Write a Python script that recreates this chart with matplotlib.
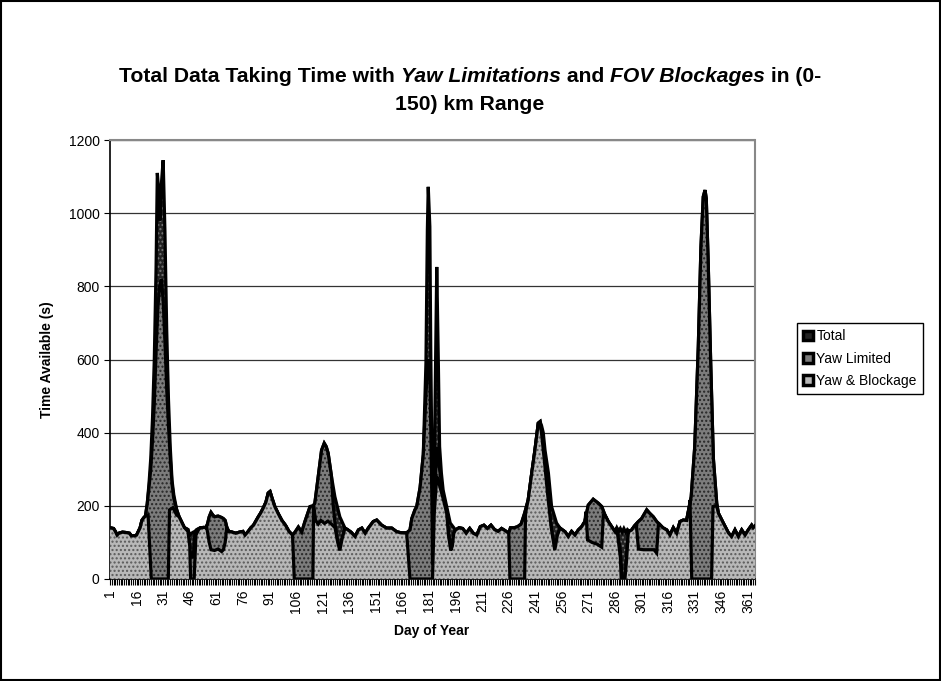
import numpy as np
import matplotlib
matplotlib.use("Agg")
import matplotlib.pyplot as plt
from matplotlib.patches import Patch, Rectangle

plt.rcParams['font.family'] = ['Liberation Sans', 'DejaVu Sans']

# (day, seconds) -- Total is the outer envelope
total = [(1, 140), (3, 138), (4, 130), (5, 120), (6, 125), (8, 128), (10, 127), (12, 125), (13, 118), (15, 118),
         (16, 120), (18, 140), (19, 160), (20, 167), (21, 172), (22, 205), (23, 260), (24, 330), (25, 440),
         (26, 600), (27, 850), (27.7, 1110), (28.5, 1060), (29.2, 980), (30, 1080), (31, 1145), (32, 950),
         (33, 680), (34, 490), (35, 360), (36, 270), (37, 230), (38.6, 190), (40, 170), (41, 160), (42, 150),
         (43, 140), (44, 138), (45, 135), (46, 120), (47, 125), (48, 128), (49, 130), (50, 135), (52, 140),
         (54, 141), (55, 140), (56, 150), (57, 170), (58, 182), (59, 175), (60, 170), (62, 172), (64, 168),
         (65, 165), (66, 160), (67, 140), (68, 130), (70, 128), (72, 125), (74, 128), (76, 130), (77.2, 120),
         (79, 130), (80.5, 140), (82, 147), (84.7, 170), (86, 180), (87.5, 194), (89, 210), (90.3, 235),
         (91.3, 239), (92.5, 220), (94, 198), (96, 178), (98, 160), (100, 147), (102, 130), (104, 120),
         (105.4, 128), (107.3, 142), (109.2, 128), (111, 157), (113.9, 198), (115.7, 200), (116.6, 207),
         (118.5, 280), (120.4, 352), (121.9, 371), (123, 362), (124.1, 344), (126, 280), (127.9, 225),
         (130.7, 170), (133.6, 139), (135, 135), (137, 128), (139.3, 116), (141.2, 134), (143.1, 139),
         (145, 125), (146.8, 139), (149.6, 157), (151.5, 161), (154.3, 147), (157.1, 139), (160, 139),
         (162.8, 129), (165.6, 126), (168.4, 126), (170.3, 134), (171.3, 165), (173.1, 189), (174.1, 198),
         (176, 250), (177.8, 340), (179.3, 590), (180.1, 954), (180.6, 1072), (181.5, 963), (182, 635),
         (182.7, 300), (183, 40), (184, 300), (185.4, 853), (186.3, 590), (187, 362), (188, 290), (189, 243),
         (191, 198), (193, 153), (195, 140), (196, 134), (198, 140), (200, 138), (202, 125), (204, 138),
         (206, 125), (208, 120), (210, 143), (212, 147), (214, 138), (216, 147), (218, 135), (220, 130),
         (222, 138), (224, 132), (226, 125), (227, 140), (229, 140), (231, 143), (233, 150), (235, 180),
         (237, 216), (239, 289), (240.8, 352), (242.7, 426), (243.7, 430), (244.5, 420), (245.5, 400),
         (246.5, 352), (248.4, 290), (250.2, 198), (253, 153), (255, 139), (257.8, 129), (259.6, 116),
         (261.5, 130), (263.4, 120), (265.3, 134), (267.2, 143), (269, 157), (270.9, 202), (273.7, 218),
         (276.6, 207), (278.5, 198), (280.3, 175), (282.2, 157), (284.1, 143), (286, 129), (287, 140),
         (288, 130), (289, 138), (290, 128), (291, 138), (292, 128), (293, 135), (294, 130), (295.4, 134),
         (297, 145), (299.2, 157), (301, 165), (303.9, 189), (305.5, 180), (307.6, 170), (309.5, 157),
         (311, 150), (313, 140), (315.2, 134), (317, 120), (318.9, 140), (320.8, 125), (322.7, 157),
         (324.5, 161), (326.4, 160), (328, 200), (329, 225), (331, 362), (333, 635), (334.5, 908),
         (335.8, 1045), (336.8, 1063), (337.5, 1040), (338.6, 863), (340, 590), (341.5, 330), (343.4, 207),
         (344.3, 180), (347.1, 153), (350, 126), (351.8, 116), (353.7, 134), (355.6, 116), (357.5, 134),
         (359.4, 120), (361.2, 134), (363.1, 147), (364, 140), (365, 145)]

# Yaw Limited follows Total except over these stretches (start, end, readings)
yaw_changes = [
    (22, 38.6, [(22, 205), (23, 250), (24, 300), (25, 380), (26, 480), (27, 620), (28, 740), (29, 800),
                (30, 820), (31, 760), (32, 650), (33, 520), (34, 420), (35, 330), (36, 260), (37, 220), (38.6, 190)]),
    (45, 49, [(45, 135), (46, 90), (46.5, 60), (48, 60), (48.5, 100), (49, 130)]),
    (126, 133.6, [(126, 280), (127, 200), (128, 150), (129.5, 100), (130.7, 80), (132, 110), (133.6, 139)]),
    (177.8, 196, [(177.8, 340), (179, 470), (180.1, 580), (180.6, 600), (181.5, 560), (182, 420), (182.7, 200),
                  (183, 40), (184, 200), (185.4, 360), (186.3, 330), (187, 300), (188, 265), (189, 230),
                  (191, 190), (192, 130), (193.3, 80), (194.2, 90), (195, 125), (196, 134)]),
    (243.7, 255, [(243.7, 430), (244.5, 400), (246, 330), (248, 230), (250, 140), (252, 79), (253.5, 120), (255, 139)]),
    (287, 293.6, [(287, 140), (288, 107), (289, 79), (290, 0), (291.6, 0), (292.6, 71), (293.6, 135)]),
]

# Yaw & Blockage follows Yaw Limited except over these stretches
block_changes = [
    (21, 38.6, [(21, 172), (22.5, 175), (24.3, 0), (33.9, 0), (34.6, 189), (36.5, 195), (38.6, 175)]),
    (43.3, 51, [(43.3, 139), (45, 130), (46, 90), (46.5, 0), (48.5, 0), (49.5, 120), (51, 135)]),
    (55.6, 66.9, [(55.6, 140), (57, 100), (58, 80), (60, 78), (62, 82), (64, 75), (65, 80), (66, 100), (66.9, 140)]),
    (104, 133.6, [(104, 120), (105, 0), (115.5, 0), (115.9, 200), (117, 160), (118.5, 150), (120, 160),
                  (122, 152), (124, 158), (126, 150), (128, 140), (129.5, 100), (130.7, 78), (132, 110), (133.6, 139)]),
    (168.4, 195, [(168.4, 126), (170.3, 0), (183, 0), (184, 180), (185.4, 280), (186.3, 270), (187, 255),
                  (189, 220), (191, 180), (192, 120), (193.3, 78), (194.2, 90), (195, 125)]),
    (226, 237, [(226, 125), (226.7, 0), (235, 0), (235.5, 180), (237, 216)]),
    (269, 280.3, [(269, 157), (269.6, 184), (270.5, 107), (273, 100), (276, 95), (278.5, 87), (279.4, 175), (280.3, 175)]),
    (287, 293.6, [(287, 140), (288, 100), (289, 60), (289.5, 0), (291.6, 0), (292.5, 50), (293.6, 135)]),
    (297, 311, [(297, 145), (298, 150), (299.2, 82), (302, 80), (305, 80), (308, 80), (309.5, 71), (310.5, 150), (311, 150)]),
    (328, 343.4, [(328, 200), (328.3, 216), (329.3, 0), (340.5, 0), (341.3, 198), (343.4, 200)]),
]

series_names = ["Total", "Yaw Limited", "Yaw & Blockage"]
tick_days = list(range(1, 366, 15))


def apply_changes(base, changes):
    pts = [p for p in base if not any(s <= p[0] <= e for s, e, _ in changes)]
    for _, _, seg in changes:
        pts += seg
    return sorted(pts)


yaw = apply_changes(total, yaw_changes)
block = apply_changes(yaw, block_changes)

fig = plt.figure(figsize=(9.41, 6.81), dpi=100)
ax = fig.add_axes([110 / 941, 1 - 579 / 681, 645 / 941, 439 / 681])

styles = [("#222222", "#777777"), ("#7c7c7c", "#262626"), ("#b8b8b8", "#5a5a5a")]
for z, (pts, (fc, hc)) in enumerate(zip([total, yaw, block], styles)):
    d = np.array([p[0] for p in pts])
    v = np.array([p[1] for p in pts])
    ax.fill_between(d, v, 0, facecolor=fc, edgecolor="none", zorder=2 + z)
    ax.fill_between(d, v, 0, facecolor="none", edgecolor=hc, hatch="....", linewidth=0, zorder=2 + z)
    ax.plot(d, v, color="black", lw=2.3, zorder=2 + z, solid_joinstyle="miter")

ax.set_xlim(1, 365)
ax.set_ylim(0, 1200)
ax.set_yticks(range(0, 1201, 200))
ax.set_xticks(tick_days)
ax.set_xticks(range(1, 366), minor=True)
ax.tick_params(axis="x", which="both", direction="out", length=4, width=0.8, labelrotation=90, labelsize=10)
ax.tick_params(axis="y", direction="out", length=4, labelsize=10)
ax.grid(axis="y", color="#333333", lw=0.9, zorder=0)
ax.set_axisbelow(True)
for side in ["top", "right"]:
    ax.spines[side].set_color("#888888")
    ax.spines[side].set_linestyle((0, (1, 1)))
    ax.spines[side].set_linewidth(1.5)
ax.spines["left"].set_linewidth(1.2)
ax.spines["bottom"].set_linewidth(1.2)

fig.text(47 / 941, 1 - 360 / 681, "Time Available (s)", rotation=90, ha="center", va="center",
         fontsize=10, weight="bold")
fig.text(432 / 941, 1 - 631 / 681, "Day of Year", ha="center", va="center", fontsize=10, weight="bold")

# title with italic pieces on the first line
fig.canvas.draw()
renderer = fig.canvas.get_renderer()
pieces = [("Total Data Taking Time with ", "normal"), ("Yaw Limitations", "italic"), (" and ", "normal"),
          ("FOV Blockages", "italic"), (" in (0-", "normal")]
tsize = 15.2
texts = []
for s, st in pieces:
    t = fig.text(0, 1 - 77 / 681, s.replace(" ", "\u00a0"), fontsize=tsize, weight="bold", style=st,
                 ha="left", va="center")
    texts.append(t)
widths = [t.get_window_extent(renderer).width for t in texts]
x = 470 - sum(widths) / 2
for t, w in zip(texts, widths):
    t.set_x(x / 941)
    x += w
fig.text(470 / 941, 1 - 104 / 681, "150) km Range", fontsize=tsize, weight="bold", ha="center", va="center")

handles = [Patch(facecolor=fc, edgecolor="black", linewidth=2.5) for fc, _ in styles]
fig.legend(handles, series_names, loc="upper left", bbox_to_anchor=(797 / 941, 1 - 323 / 681),
           borderaxespad=0, fontsize=10, frameon=True, fancybox=False, edgecolor="black", framealpha=1,
           handlelength=0.7, handleheight=0.7, handletextpad=0.25, borderpad=0.45, labelspacing=0.6)

fig.add_artist(Rectangle((0.001, 0.0015), 0.998, 0.997, transform=fig.transFigure, fill=False,
                         edgecolor="black", lw=1.5))

fig.savefig("out.png", dpi=100)
